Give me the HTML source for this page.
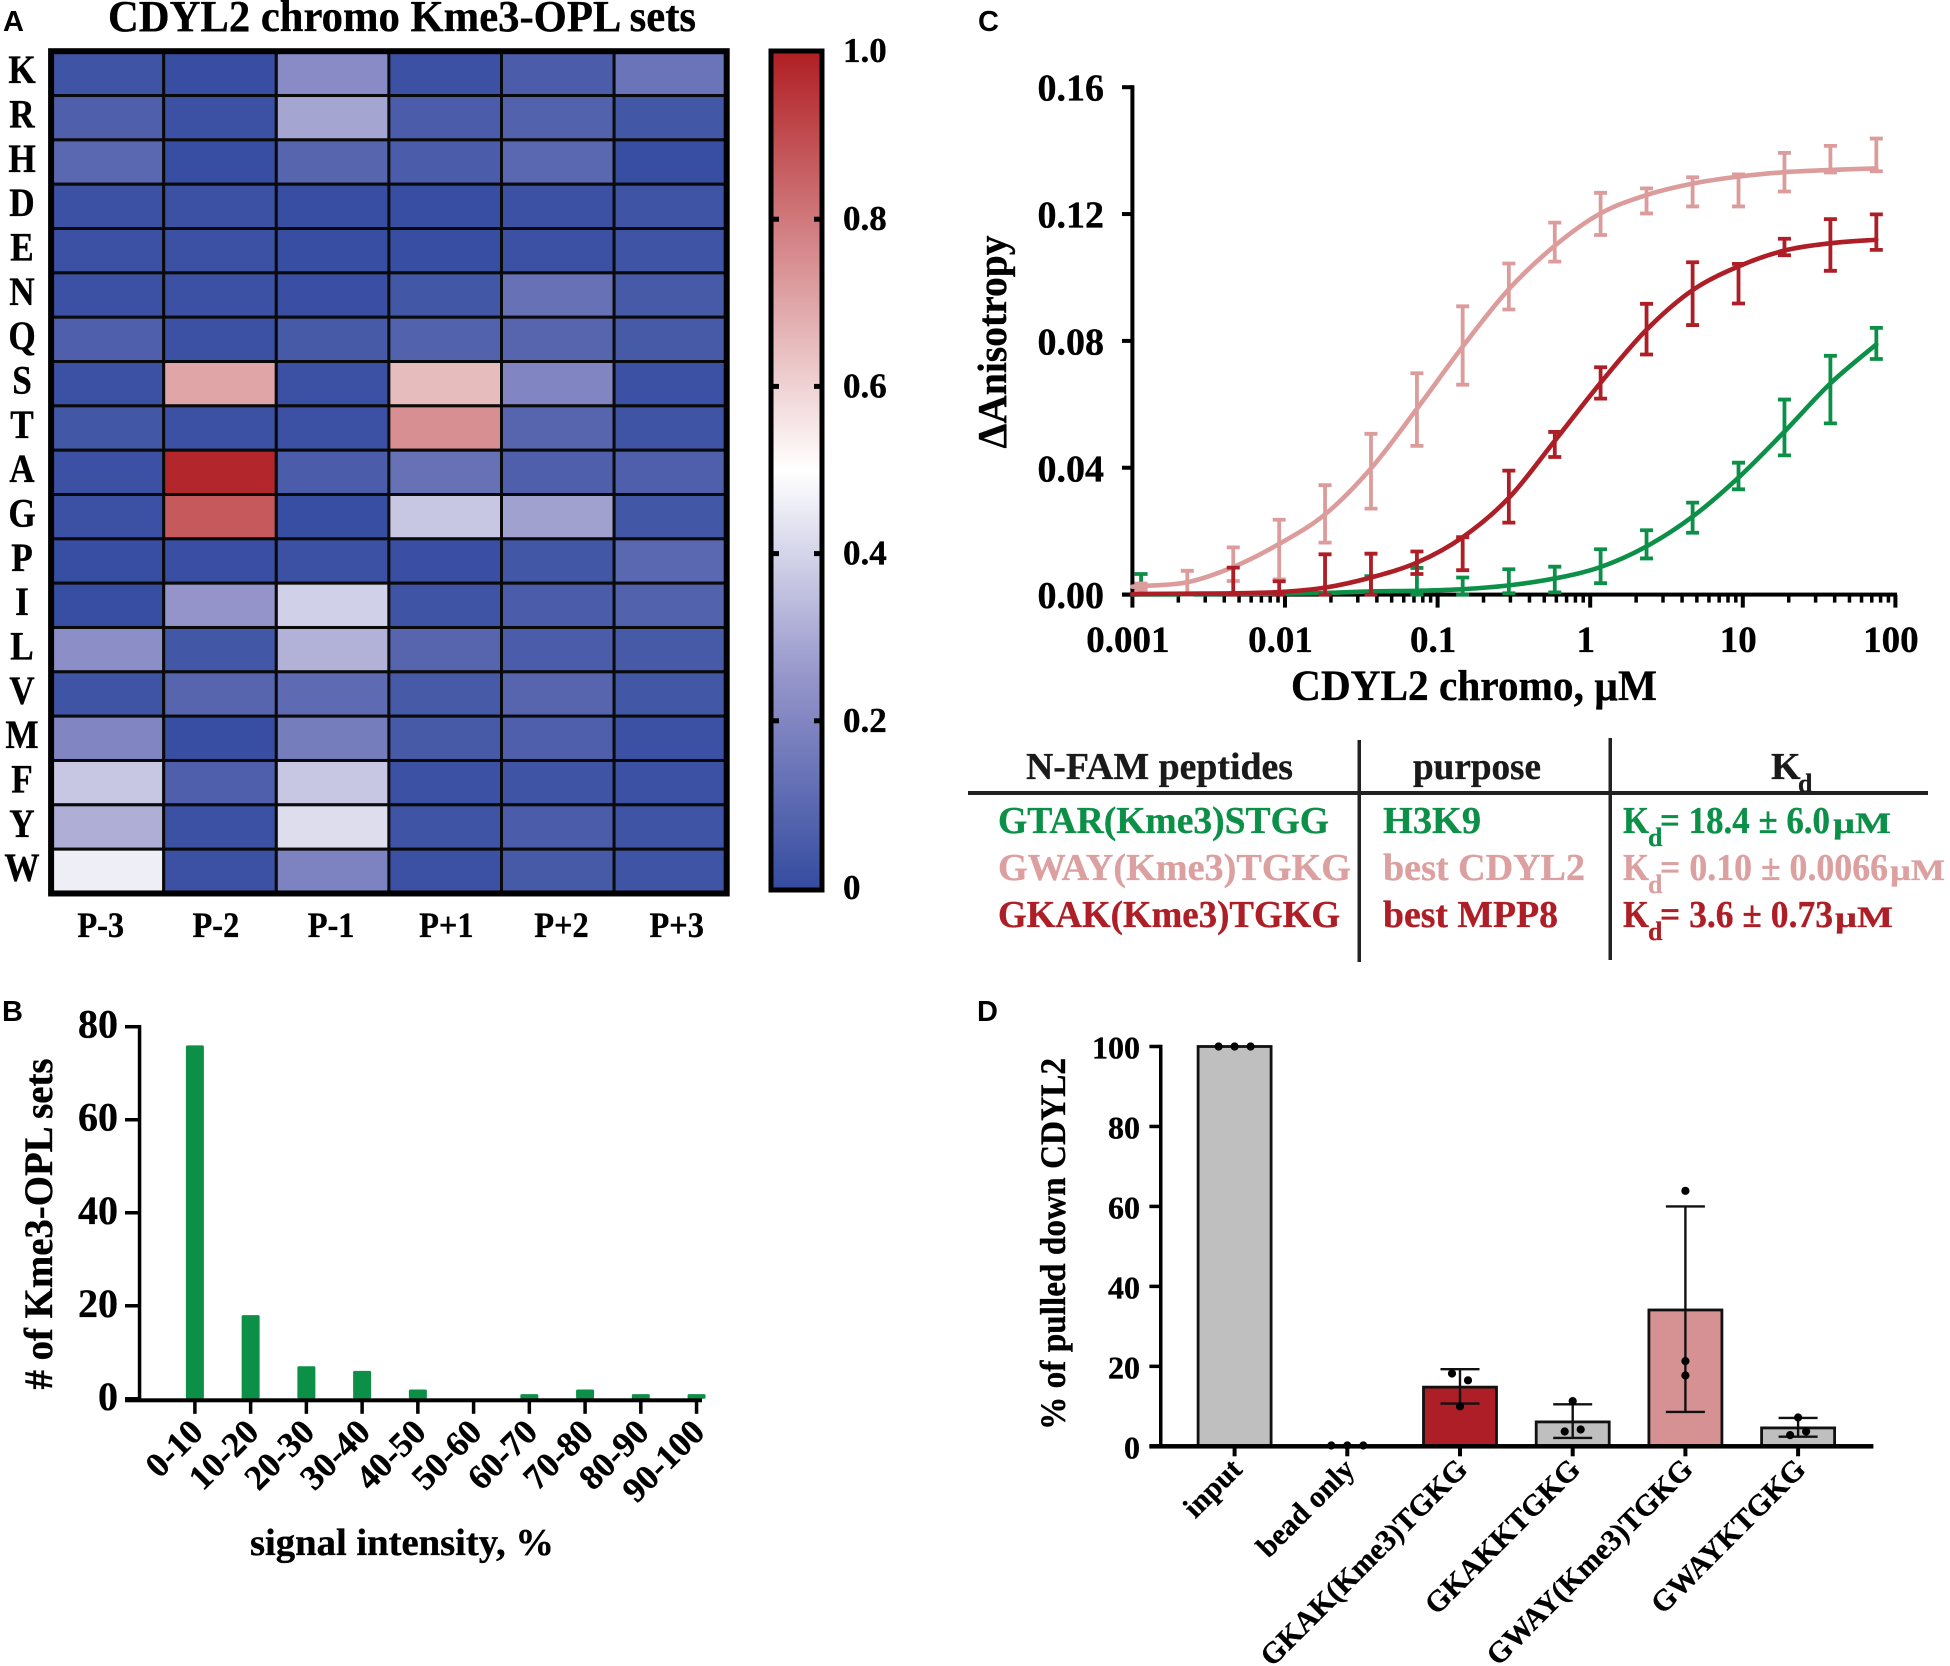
<!DOCTYPE html>
<html lang="en">
<head>
<meta charset="utf-8">
<title>CDYL2 chromo Kme3-OPL figure</title>
<style>
html,body{margin:0;padding:0;background:#fff;}
svg{display:block;}
text{font-family:"Liberation Serif",serif;font-weight:bold;fill:#000;stroke:#000;stroke-width:.35;}
.panel{font-family:"Liberation Sans",sans-serif;font-size:29px;stroke-width:0;}
.sm{font-size:30px;}
.sb{font-size:26px;}
.hd{fill:#1a1a1a;stroke:#1a1a1a;}
.gn{fill:#0c9048;stroke:#0c9048;}
.pk{fill:#dca0a0;stroke:#dca0a0;}
.rd{fill:#ae1e26;stroke:#ae1e26;}
</style>
</head>
<body>
<svg id="fig" xmlns="http://www.w3.org/2000/svg" width="1950" height="1666" viewBox="0 0 1950 1666">
<defs>
<linearGradient id="cmap" x1="0" y1="0" x2="0" y2="1">
<stop offset="0" stop-color="#b01e23"/>
<stop offset="0.5" stop-color="#ffffff"/>
<stop offset="0.75" stop-color="#9494ca"/>
<stop offset="1" stop-color="#344ba0"/>
</linearGradient>
</defs>
<rect width="1950" height="1666" fill="#fff"/>

<text class="panel" x="3" y="31">A</text>
<text class="panel" x="2" y="1021">B</text>
<text class="panel" x="978" y="31">C</text>
<text class="panel" x="977" y="1021">D</text>

<text x="108" y="31" font-size="44" textLength="588" lengthAdjust="spacingAndGlyphs">CDYL2 chromo Kme3-OPL sets</text>
<g id="heat"></g>
<g id="cbar"></g>

<g id="barsB"></g>
<text x="250" y="1555" font-size="38" textLength="304" lengthAdjust="spacingAndGlyphs">signal intensity, %</text>
<text transform="translate(52,1224) rotate(-90)" text-anchor="middle" font-size="40" textLength="331" lengthAdjust="spacingAndGlyphs"># of Kme3-OPL sets</text>

<g id="curveC"></g>
<text x="1291" y="700" font-size="43" textLength="366" lengthAdjust="spacingAndGlyphs">CDYL2 chromo, µM</text>
<text transform="translate(1006,342) rotate(-90)" text-anchor="middle" font-size="41" textLength="213" lengthAdjust="spacingAndGlyphs">ΔAnisotropy</text>

<g>
<rect x="968" y="791" width="960" height="4" fill="#222"/>
<rect x="1357.5" y="740" width="3.5" height="222" fill="#222"/>
<rect x="1608.5" y="738" width="3.5" height="222" fill="#222"/>
<text class="hd" x="1026" y="779" font-size="38" textLength="267" lengthAdjust="spacingAndGlyphs">N-FAM peptides</text>
<text class="hd" x="1413" y="779" font-size="38" textLength="128" lengthAdjust="spacingAndGlyphs">purpose</text>
<text class="hd" x="1771" y="779" font-size="38">K</text>
<text class="hd sb" x="1798" y="792">d</text>

<text class="gn" x="998" y="833" font-size="38" textLength="331" lengthAdjust="spacingAndGlyphs">GTAR(Kme3)STGG</text>
<text class="gn" x="1383" y="833" font-size="38" textLength="98" lengthAdjust="spacingAndGlyphs">H3K9</text>
<text class="gn" x="1623" y="833" font-size="38" textLength="26" lengthAdjust="spacingAndGlyphs">K</text>
<text class="gn sb" x="1648" y="846">d</text>
<text class="gn" x="1660" y="833" font-size="38" textLength="170" lengthAdjust="spacingAndGlyphs">= 18.4 ± 6.0</text>
<text class="gn sm" x="1833" y="833" textLength="58" lengthAdjust="spacingAndGlyphs">µM</text>

<text class="pk" x="998" y="880" font-size="38" textLength="353" lengthAdjust="spacingAndGlyphs">GWAY(Kme3)TGKG</text>
<text class="pk" x="1383" y="880" font-size="38" textLength="202" lengthAdjust="spacingAndGlyphs">best CDYL2</text>
<text class="pk" x="1623" y="880" font-size="38" textLength="26" lengthAdjust="spacingAndGlyphs">K</text>
<text class="pk sb" x="1648" y="893">d</text>
<text class="pk" x="1660" y="880" font-size="38" textLength="228" lengthAdjust="spacingAndGlyphs">= 0.10 ± 0.0066</text>
<text class="pk sm" x="1890" y="880" textLength="55" lengthAdjust="spacingAndGlyphs">µM</text>

<text class="rd" x="998" y="927" font-size="38" textLength="342" lengthAdjust="spacingAndGlyphs">GKAK(Kme3)TGKG</text>
<text class="rd" x="1383" y="927" font-size="38" textLength="175" lengthAdjust="spacingAndGlyphs">best MPP8</text>
<text class="rd" x="1623" y="927" font-size="38" textLength="26" lengthAdjust="spacingAndGlyphs">K</text>
<text class="rd sb" x="1648" y="940">d</text>
<text class="rd" x="1660" y="927" font-size="38" textLength="173" lengthAdjust="spacingAndGlyphs">= 3.6 ± 0.73</text>
<text class="rd sm" x="1835" y="927" textLength="58" lengthAdjust="spacingAndGlyphs">µM</text>
</g>

<g id="pulldown"></g>
<text transform="translate(1065,1244) rotate(-90)" text-anchor="middle" font-size="36" textLength="372" lengthAdjust="spacingAndGlyphs">% of pulled down CDYL2</text>
</svg>

<script>
// ---- Panel A data ----
const heatRows = ['K','R','H','D','E','N','Q','S','T','A','G','P','I','L','V','M','F','Y','W'];
const heatCols = ['P-3','P-2','P-1','P+1','P+2','P+3'];
const heatValues = [
 [.03,.01,.22,.02,.06,.14],
 [.07,.02,.29,.06,.08,.04],
 [.10,.01,.09,.06,.10,.01],
 [.02,.02,.01,.01,.02,.03],
 [.02,.02,.01,.01,.02,.03],
 [.02,.02,.015,.04,.13,.05],
 [.07,.02,.05,.08,.09,.05],
 [.02,.70,.02,.65,.20,.02],
 [.04,.02,.02,.75,.09,.03],
 [.02,.98,.06,.13,.07,.07],
 [.02,.87,.01,.37,.28,.04],
 [.01,.015,.02,.015,.04,.10],
 [.01,.25,.39,.03,.06,.08],
 [.23,.04,.32,.09,.06,.05],
 [.03,.09,.11,.05,.09,.04],
 [.20,.01,.17,.05,.07,.02],
 [.37,.07,.37,.02,.03,.02],
 [.31,.02,.42,.03,.06,.03],
 [.46,.02,.19,.02,.05,.03]
];
const colorbarTicks = [0,0.2,0.4,0.6,0.8,1.0];
const colorbarLabels = ['0','0.2','0.4','0.6','0.8','1.0'];

// ---- Panel B data ----
const histCategories = ['0-10','10-20','20-30','30-40','40-50','50-60','60-70','70-80','80-90','90-100'];
const histCounts = [76,18,7,6,2,0,1,2,1,1];
const histTicks = [0,20,40,60,80];

// ---- Panel C data ----
const fitStart = 0.001;
const concentrations = [0.00114,0.00229,0.00458,0.00916,0.0183,0.0366,0.0732,0.146,0.293,0.586,1.17,2.34,4.69,9.375,18.75,37.5,75];
const pinkFit = [.0025,.0027,.0039,.0087,.016,.0253,.0398,.0586,.0782,.0963,.11,.1202,.126,.1296,.1318,.1332,.1339,.1344];
const pinkHigh = [.0035,.0075,.0149,.0236,.0345,.0507,.0698,.0909,.1044,.1173,.1267,.1281,.1316,.1325,.1393,.1415,.1438];
const pinkLow = [.0015,.0,.0043,.0048,.0164,.0271,.0469,.0662,.0899,.105,.1134,.1202,.1224,.1224,.1271,.1331,.1335];
const redFit = [.0001,.0002,.0003,.0004,.0008,.0022,.0054,.0101,.0181,.0305,.0485,.0668,.0835,.096,.1035,.1085,.1108,.1119];
const redHigh = [.0002,.0003,.0085,.0042,.0127,.0129,.0136,.0181,.0391,.0513,.0717,.0917,.1048,.1043,.1122,.1184,.1199];
const redLow = [.0,.0,.0,.0,.0,.0,.0065,.0077,.0227,.0434,.0618,.0757,.085,.0918,.107,.1021,.1087];
const greenFit = [.0,.0001,.0001,.0002,.0003,.0005,.001,.0012,.0017,.0029,.0051,.0087,.0152,.0246,.0369,.0514,.0666,.0789];
const greenHigh = [.0065,.0001,.0002,.0003,.0005,.0058,.0084,.0054,.008,.0088,.0143,.0203,.029,.0416,.0615,.0753,.0841];
const greenLow = [.0,.0,.0,.0,.0,.0,.0,.0,.0004,.0007,.0036,.0114,.0195,.0332,.0439,.054,.0743];
const curveYTicks = [0,0.04,0.08,0.12,0.16];
const curveYLabels = ['0.00','0.04','0.08','0.12','0.16'];
const curveXTicks = [0.001,0.01,0.1,1,10,100];
const curveXLabels = ['0.001','0.01','0.1','1','10','100'];

// ---- Panel D data ----
const pullCategories = ['input','bead only','GKAK(Kme3)TGKG','GKAKKTGKG','GWAY(Kme3)TGKG','GWAYKTGKG'];
const pullMeans = [100,0,14.8,6.1,34.1,4.6];
const pullErrHigh = [null,null,19.3,10.5,60,7.1];
const pullErrLow = [null,null,10.7,2.1,8.6,2.4];
const pullDots = [[100,100,100],[0.2,0.2,0.2],[18.2,16.5,10],[11.3,3.7,4.2],[63.9,21.3,17.7],[7.2,2.8,3.7]];
const pullTicks = [0,20,40,60,80,100];

// ---- helpers ----
const NS = 'http://www.w3.org/2000/svg';
function mk(tag, attrs, parent){
  const el = document.createElementNS(NS, tag);
  for (const k in attrs) el.setAttribute(k, attrs[k]);
  parent.appendChild(el);
  return el;
}
function smoothPath(pts){
  let d = 'M' + pts[0][0].toFixed(2) + ' ' + pts[0][1].toFixed(2);
  for (let i = 0; i < pts.length - 1; i++){
    const p0 = pts[Math.max(i-1,0)], p1 = pts[i], p2 = pts[i+1], p3 = pts[Math.min(i+2,pts.length-1)];
    const c1x = p1[0] + (p2[0]-p0[0])/6, c1y = p1[1] + (p2[1]-p0[1])/6;
    const c2x = p2[0] - (p3[0]-p1[0])/6, c2y = p2[1] - (p3[1]-p1[1])/6;
    d += 'C' + c1x.toFixed(2) + ' ' + c1y.toFixed(2) + ' ' + c2x.toFixed(2) + ' ' + c2y.toFixed(2) + ' ' + p2[0].toFixed(2) + ' ' + p2[1].toFixed(2);
  }
  return d;
}
function lerp(a,b,t){return Math.round(a+(b-a)*t);}
function heatColor(v){
  const lo=[0x34,0x4b,0xa0], q=[0x94,0x94,0xca], mid=[255,255,255], hi=[0xb0,0x1e,0x23];
  let a,b,t;
  if (v<0.25){a=lo;b=q;t=v/0.25;}
  else if (v<0.5){a=q;b=mid;t=(v-0.25)/0.25;}
  else {a=mid;b=hi;t=(v-0.5)/0.5;}
  return 'rgb('+lerp(a[0],b[0],t)+','+lerp(a[1],b[1],t)+','+lerp(a[2],b[2],t)+')';
}

// ---- Panel A ----
(function(){
  const g = document.getElementById('heat');
  const x0=51.1, y0=51.2, cw=112.6, ch=44.33;
  const xH = i => x0 + cw*i, yH = j => y0 + ch*j;
  heatValues.forEach((row,j)=>{
    row.forEach((v,i)=>{
      const c = mk('rect',{x:xH(i),y:yH(j),width:cw,height:ch,fill:heatColor(v),stroke:'#0a0a0a','stroke-width':3},g);
      
      
    });
  });
  const frame = mk('rect',{x:x0,y:y0,width:cw*heatCols.length,height:ch*heatRows.length,fill:'none',stroke:'#000','stroke-width':6},g);
  
  
  heatRows.forEach((r,j)=>{
    const t = mk('text',{transform:'translate(22,'+(yH(j)+32)+') scale(.88,1)','text-anchor':'middle','font-size':40},g);
    t.textContent = r;
    
    
  });
  heatCols.forEach((c,i)=>{
    const t = mk('text',{transform:'translate('+(xH(i)+49.6+i*2.6)+',937) scale(.9,1)','text-anchor':'middle','font-size':36},g);
    t.textContent = c;
    
    
  });

  const b = document.getElementById('cbar');
  const top=52, bot=888;
  const yC = v => bot - v*(bot-top);
  const grad = mk('rect',{x:771,y:top-1,width:51,height:bot-top+3,fill:'url(#cmap)',stroke:'#000','stroke-width':5},b);
  
  
  colorbarTicks.forEach((v,i)=>{
    if (v>0 && v<1){
      const l = mk('rect',{x:773,y:yC(v)-2.5,width:6,height:5,fill:'#000'},b);
      
      
      const r = mk('rect',{x:814,y:yC(v)-2.5,width:6,height:5,fill:'#000'},b);
      
      
    }
    const t = mk('text',{x:843,y:yC(v)+(v===1?10:11),'font-size':35},b);
    t.textContent = colorbarLabels[i];
    
    
  });
})();

// ---- Panel B ----
(function(){
  const g = document.getElementById('barsB');
  const xB = i => 194.9 + 55.74*i;
  const yB = v => 1398.8 - v*4.651;
  histCategories.forEach((c,i)=>{
    const b = mk('rect',{x:xB(i)-9,y:yB(histCounts[i]),width:18,height:yB(0)-yB(histCounts[i]),fill:'#0c9048',rx:1.5},g);
    
    
    const tk = mk('rect',{x:xB(i)-1.75,y:yB(0),width:3.5,height:15,fill:'#000'},g);
    
    
    const ax = xB(i)+10, ay = 1434;
    const t = mk('text',{transform:'translate('+ax+','+ay+') rotate(-45)','text-anchor':'end','font-size':35},g);
    t.textContent = c;
    
    
  });
  histTicks.forEach(v=>{
    const tk = mk('rect',{x:125,y:yB(v)-1.75,width:15,height:3.5,fill:'#000'},g);
    
    
    const t = mk('text',{x:118,y:yB(v)+11,'text-anchor':'end','font-size':40},g);
    t.textContent = String(v);
    
    
  });
  const ya = mk('rect',{x:137.8,y:yB(80)-1.75,width:3.5,height:yB(0)-yB(80)+3.5,fill:'#000'},g);
  
  
  const xa = mk('rect',{x:125,y:yB(0)-0.5,width:577,height:4,fill:'#000'},g);
  
  
})();

// ---- Panel C ----
(function(){
  const g = document.getElementById('curveC');
  const xS = c => 1132.4 + 152.6*(Math.log10(c)+3);
  const yS = v => 594.6 - v*(507.4/0.16);
  const ya = mk('rect',{x:1130.4,y:yS(0.16)-2,width:4,height:yS(0)-yS(0.16)+4,fill:'#000'},g);
  
  
  const xa = mk('rect',{x:1122,y:yS(0)-2,width:775,height:4,fill:'#000'},g);
  
  
  curveYTicks.forEach((v,i)=>{
    const tk = mk('rect',{x:1122,y:yS(v)-2,width:10,height:4,fill:'#000'},g);
    
    
    const t = mk('text',{x:1104,y:yS(v)+13.5,'text-anchor':'end','font-size':38},g);
    t.textContent = curveYLabels[i];
    
    
  });
  curveXTicks.forEach((c,i)=>{
    const tk = mk('rect',{x:xS(c)-2,y:yS(0),width:4,height:13,fill:'#000'},g);
    
    
    if (i < curveXTicks.length-1){
      for (let m=2;m<10;m++){
        const mt = mk('rect',{x:xS(c*m)-1.75,y:yS(0),width:3.5,height:8,fill:'#000'},g);
        
        
      }
    }
    const t = mk('text',{x:xS(c)-4.5,y:652,'text-anchor':'middle','font-size':37},g);
    t.textContent = curveXLabels[i];
    
    
  });
  function drawSeries(name,color,fit,high,low){
    const sg = mk('g',{},g);
    
    
    concentrations.forEach((c,i)=>{
      const x = xS(c), yh = yS(high[i]), yl = yS(low[i]);
      if (Math.abs(high[i]-low[i]) < 0.0008) return;
      const e = mk('path',{d:'M'+x+' '+yh+'V'+yl+'M'+(x-6.5)+' '+yh+'H'+(x+6.5)+'M'+(x-6.5)+' '+yl+'H'+(x+6.5),fill:'none',stroke:color,'stroke-width':3.8},sg);
      
      
    });
    const pts = [fitStart].concat(concentrations).map((c,i)=>[xS(c),yS(fit[i])]);
    const l = mk('path',{d:smoothPath(pts),fill:'none',stroke:color,'stroke-width':4.6,'stroke-linecap':'round'},sg);
    
    
  }
  drawSeries('green','#0c9048',greenFit,greenHigh,greenLow);
  drawSeries('pink','#dc9c9c',pinkFit,pinkHigh,pinkLow);
  drawSeries('red','#ae1e26',redFit,redHigh,redLow);
})();

// ---- Panel D ----
(function(){
  const g = document.getElementById('pulldown');
  const xP = i => 1234.6 + 112.7*i;
  const yP = v => 1446.3 - v*3.998;
  const fills = ['#bfbfbf','#bfbfbf','#ae1e26','#bfbfbf','#d69292','#bfbfbf'];
  pullCategories.forEach((c,i)=>{
    if (pullMeans[i] > 0){
      const b = mk('rect',{x:xP(i)-36.5,y:yP(pullMeans[i]),width:73,height:yP(0)-yP(pullMeans[i]),fill:fills[i],stroke:'#111','stroke-width':2.8},g);
      
      
    }
  });
  const xa = mk('rect',{x:1149.4,y:yP(0)-2.25,width:724,height:4.5,fill:'#000'},g);
  
  
  const ya = mk('rect',{x:1159,y:yP(100)-1.75,width:3.5,height:yP(0)-yP(100)+3.5,fill:'#000'},g);
  
  
  pullTicks.forEach(v=>{
    const tk = mk('rect',{x:1149.4,y:yP(v)-1.75,width:11,height:3.5,fill:'#000'},g);
    
    
    const t = mk('text',{x:1140,y:yP(v)+12,'text-anchor':'end','font-size':32},g);
    t.textContent = String(v);
    
    
  });
  pullCategories.forEach((c,i)=>{
    const tk = mk('rect',{x:xP(i)-2,y:yP(0),width:4,height:10,fill:'#000'},g);
    
    
    if (pullErrHigh[i] !== null){
      const x = xP(i), yh = yP(pullErrHigh[i]), yl = yP(pullErrLow[i]);
      const e = mk('path',{d:'M'+x+' '+yh+'V'+yl+'M'+(x-19.5)+' '+yh+'H'+(x+19.5)+'M'+(x-19.5)+' '+yl+'H'+(x+19.5),fill:'none',stroke:'#111','stroke-width':2.4},g);
      
      
    }
    // swarm layout: replicates with nearly equal values spread sideways
    const vals = pullDots[i];
    vals.forEach((v,k)=>{
      const peers = vals.filter(o => Math.abs(o-v) < 3);
      const rank = vals.filter((o,n)=> n<k && Math.abs(o-v)<3).length;
      let off = 0;
      if (peers.length === 3) off = (rank-1)*16;
      if (peers.length === 2) off = (rank===0?-1:1)*8;
      const d = mk('circle',{cx:xP(i)+off,cy:yP(v),r:4.1,fill:'#000'},g);
      
      
    });
    const t = mk('text',{transform:'translate('+(xP(i)+9)+',1471) rotate(-45)','text-anchor':'end','font-size':30},g);
    t.textContent = c;
    
    
  });
})();
</script>
</body>
</html>
